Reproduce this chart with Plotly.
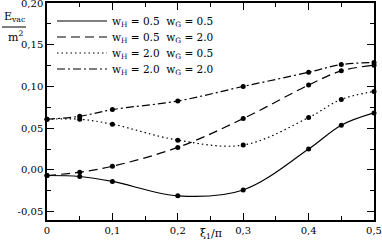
import plotly.graph_objects as go

xi = [0, 0.05, 0.1, 0.2, 0.3, 0.4, 0.45, 0.5]
e_05_05 = [-0.0067, -0.0079, -0.0138, -0.031, -0.024, 0.025, 0.0536, 0.0683]
e_05_20 = [-0.0067, -0.0027, 0.0044, 0.027, 0.0615, 0.1017, 0.1187, 0.1255]
e_20_05 = [0.0607, 0.0607, 0.0548, 0.0357, 0.0298, 0.0627, 0.0845, 0.094]
e_20_20 = [0.0607, 0.0643, 0.0723, 0.0826, 0.100, 0.117, 0.1262, 0.1286]

names = ["w<sub>H</sub> = 0.5  w<sub>G</sub> = 0.5",
         "w<sub>H</sub> = 0.5  w<sub>G</sub> = 2.0",
         "w<sub>H</sub> = 2.0  w<sub>G</sub> = 0.5",
         "w<sub>H</sub> = 2.0  w<sub>G</sub> = 2.0"]
series = [e_05_05, e_05_20, e_20_05, e_20_20]
dashes = ["solid", "9px,5px", "1.5px,3px", "8px,3px,2px,3px"]

xtickvals = [0, 0.1, 0.2, 0.3, 0.4, 0.5]
xticktext = ["0", "0,1", "0,2", "0,3", "0,4", "0,5"]
ytickvals = [-0.05, 0.0, 0.05, 0.10, 0.15, 0.20]
yticktext = ["-0,05", "0,00", "0,05", "0,10", "0,15", "0,20"]

FONT = "DejaVu Serif"

W, H = 382, 245
L, R, T, B = 47, 8, 3, 25
pw, ph = W - L - R, H - T - B

def px(xp):
    return (xp - L) / pw

def py(yp):
    return (H - B - yp) / ph

legend_ids = ["legend", "legend2", "legend3", "legend4"]
legend_rows = [21, 37, 53, 69]

fig = go.Figure()
for ys, nm, d, lg in zip(series, names, dashes, legend_ids):
    fig.add_trace(go.Scatter(x=xi, y=ys, mode="lines", name=nm, legend=lg,
                             line=dict(color="black", width=1.2, dash=d, shape="spline", smoothing=1.0)))
for ys in series:
    fig.add_trace(go.Scatter(x=xi, y=ys, mode="markers", showlegend=False,
                             marker=dict(color="black", size=5), cliponaxis=False))

axis_common = dict(showgrid=False, zeroline=False, showline=True, linecolor="black", linewidth=1.5,
                   mirror="allticks", ticks="inside", ticklen=7, tickcolor="black", tickwidth=1,
                   ticklabeloverflow="allow",
                   tickfont=dict(family=FONT, size=10, color="black"))

fig.update_xaxes(range=[0, 0.5], tickvals=xtickvals, ticktext=xticktext,
                 minor=dict(dtick=0.05, tick0=0, ticks="inside", ticklen=4, tickcolor="black"),
                 **axis_common)
fig.update_yaxes(range=[-0.06, 0.20], tickvals=ytickvals, ticktext=yticktext,
                 minor=dict(dtick=0.025, tick0=0, ticks="inside", ticklen=4, tickcolor="black"),
                 **axis_common)

fig.add_annotation(text="E<sub>vac</sub>", xref="paper", yref="paper", x=px(14), y=py(26),
                   xanchor="center", yanchor="bottom", showarrow=False,
                   font=dict(family=FONT, size=11, color="black"))
fig.add_annotation(text="m<sup>2</sup>", xref="paper", yref="paper", x=px(15), y=py(27),
                   xanchor="center", yanchor="top", showarrow=False,
                   font=dict(family=FONT, size=11, color="black"))
fig.add_shape(type="line", xref="paper", yref="paper", x0=px(2), x1=px(26), y0=py(27), y1=py(27),
              line=dict(color="black", width=1))
fig.add_annotation(text="ξ<sub>1</sub>/π", xref="paper", yref="paper", x=px(211), y=py(243),
                   xanchor="center", yanchor="bottom", showarrow=False,
                   font=dict(family=FONT, size=11, color="black"))

layout_legends = {}
for lg, row in zip(legend_ids, legend_rows):
    layout_legends[lg] = dict(x=px(52), y=py(row), xanchor="left", yanchor="middle",
                              bgcolor="rgba(0,0,0,0)", itemwidth=50, borderwidth=0,
                              font=dict(family=FONT, size=10.5, color="black"))

fig.update_layout(width=W, height=H, margin=dict(l=L, r=R, t=T, b=B, autoexpand=False),
                  plot_bgcolor="white", paper_bgcolor="white",
                  showlegend=True, **layout_legends)

fig.write_html("out.html", config={"displayModeBar": False},
               post_script="document.body.style.margin='0px';")
